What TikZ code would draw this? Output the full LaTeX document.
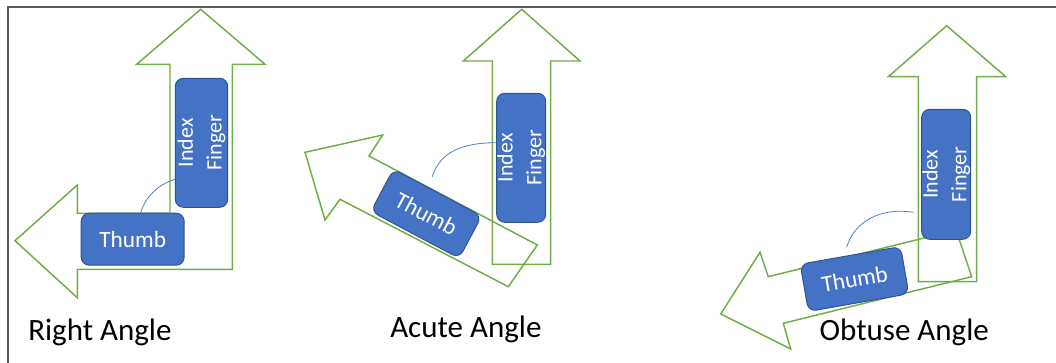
\documentclass[tikz,border=0pt]{standalone}
\usepackage{fontspec}
\setmainfont{Carlito}
\definecolor{grn}{HTML}{70AD47}
\definecolor{bfill}{HTML}{4472C4}
\definecolor{bdraw}{HTML}{2F528F}
\definecolor{framec}{HTML}{595959}
\definecolor{arcc}{HTML}{4F7FD0}
\begin{document}
\begin{tikzpicture}[x=0.75pt,y=-0.75pt,
  arrowshape/.style={draw=grn, line width=1.1pt, line join=miter},
  fingerbox/.style={draw=bdraw, fill=bfill, rounded corners=6pt, line width=0.7pt,
    text=white, inner sep=0pt, align=center},
  thumbfont/.style={font=\fontsize{17.5}{21}\selectfont},
  indexfont/.style={font=\fontsize{16.5}{21.5}\selectfont},
  anglearc/.style={draw=arcc, line width=0.6pt},
  caption/.style={anchor=base west, inner sep=0pt, font=\fontsize{23.25}{28}\selectfont, text=black}]
\useasboundingbox (0,0) rectangle (1056,363);
\draw[framec, line width=1.5pt] (8,363) -- (8,7.5) -- (1056,7.5);

% ---------- Right angle ----------
\draw[arrowshape] (15,240.7) -- (77.3,185) -- (77.3,213.3) -- (170,213.3) -- (170,64.3)
  -- (136.7,64.3) -- (200.7,9.3) -- (265,64.3) -- (232.3,64.3) -- (232.3,269.3)
  -- (77.3,269.3) -- (77.3,297.7) -- cycle;
\node[fingerbox, thumbfont, minimum width=77.25pt, minimum height=39pt] (thumbA) at (132.7,239.2) {Thumb};
\node[fingerbox, indexfont, rotate=90, minimum width=96.75pt, minimum height=39.3pt] (indexA) at (201.5,142.8) {Index\\Finger};
\coordinate (arcAs) at (140.7,212.7);
\coordinate (arcAe) at (175,179.3);
\draw[anglearc] (arcAs) .. controls (146,195) and (160,184) .. (arcAe);
\node[caption] (capA) at (28,340) {Right Angle};

% ---------- Acute angle ----------
\draw[arrowshape] (521.7,9.3) -- (580,61) -- (550.7,61) -- (550.7,264.3) -- (492.3,264.3)
  -- (492.3,61) -- (463.3,61) -- cycle;
\draw[arrowshape] (305,152.3) -- (382.7,135) -- (369,156) -- (537.3,245) -- (508.3,286.7)
  -- (340,199.3) -- (325,220) -- cycle;
\node[fingerbox, indexfont, rotate=90, minimum width=96.75pt, minimum height=36.75pt] (indexB) at (521.2,157.8) {Index\\Finger};
\node[fingerbox, thumbfont, rotate=-28, minimum width=75pt, minimum height=36pt] (thumbB) at (426.3,213.7) {Thumb};
\coordinate (arcBs) at (432.3,176.7);
\coordinate (arcBe) at (496.7,142.7);
\draw[anglearc] (arcBs) .. controls (440,152) and (462,142.7) .. (arcBe);
\node[caption] (capB) at (390,337.3) {Acute Angle};

% ---------- Obtuse angle ----------
\draw[arrowshape] (946.7,25.7) -- (1005.7,76.7) -- (976.7,76.7) -- (976.7,281.7) -- (918.3,281.7)
  -- (918.3,76.7) -- (888.3,76.7) -- cycle;
\draw[arrowshape] (720.7,314) -- (760,252.3) -- (768.3,276.7) -- (956,230) -- (971.7,276.7)
  -- (783.3,323.3) -- (790.7,349) -- cycle;
\node[fingerbox, indexfont, rotate=90, minimum width=97.5pt, minimum height=36.75pt] (indexC) at (946.2,174.3) {Index\\Finger};
\node[fingerbox, thumbfont, rotate=10, minimum width=76.5pt, minimum height=36pt] (thumbC) at (854.5,279) {Thumb};
\coordinate (arcCs) at (846.7,247.3);
\coordinate (arcCe) at (913.3,212.3);
\draw[anglearc] (arcCs) .. controls (854,222) and (880,207) .. (arcCe);
\node[caption] (capC) at (819.3,340) {Obtuse Angle};
\end{tikzpicture}
\end{document}
